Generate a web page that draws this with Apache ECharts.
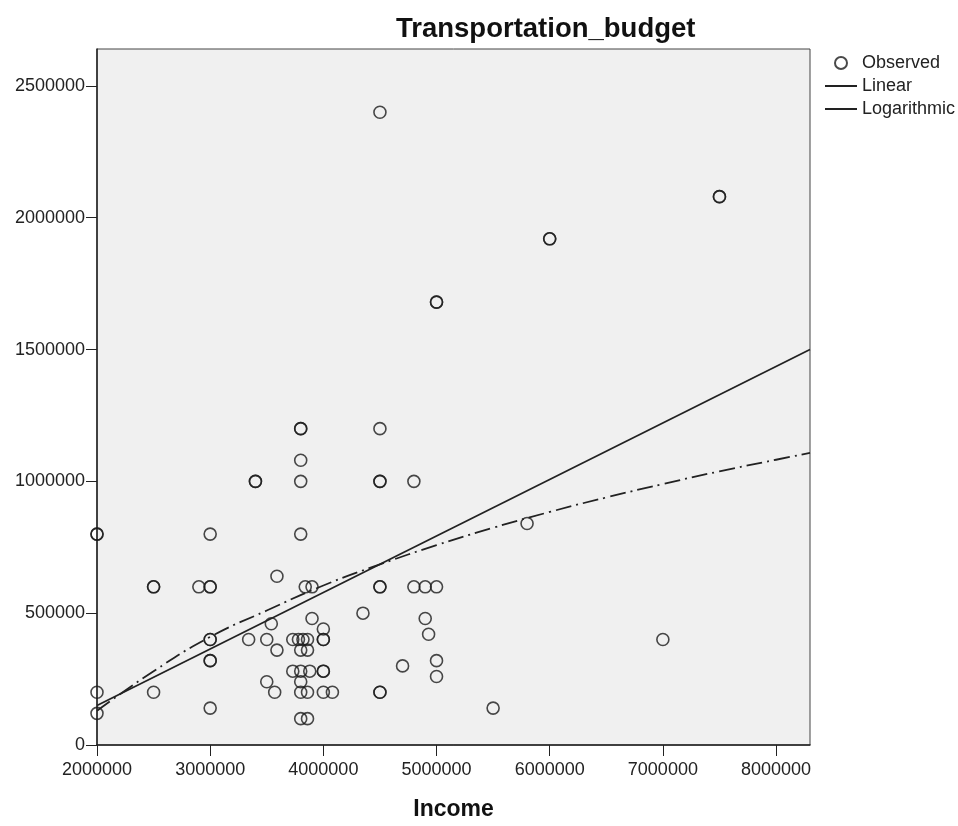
<!DOCTYPE html>
<html>
<head>
    <meta charset="utf-8" />
    <title>Transportation_budget</title>
    <style>
        html, body { margin: 0; padding: 0; background: #fff; }
        #chart { width: 958px; height: 826px; }
    </style>
</head>
<body>
    <div id="chart"></div>
    <script src="https://cdn.jsdelivr.net/npm/echarts@6/dist/echarts.min.js"></script>
    <script>
        // observed points (income, transportation budget); repeated pairs are duplicate cases
        var income = [
            2000000, 2000000, 2000000, 2000000,
            2500000, 2500000, 2500000,
            2900000,
            3000000, 3000000, 3000000, 3000000, 3000000, 3000000, 3000000, 3000000,
            3340000, 3400000, 3400000,
            3500000, 3500000, 3540000, 3570000, 3590000, 3590000,
            3730000, 3730000, 3780000,
            3800000, 3800000, 3800000, 3800000, 3800000, 3800000, 3800000, 3800000, 3800000, 3800000,
            3820000, 3840000,
            3860000, 3860000, 3860000, 3860000,
            3880000, 3900000, 3900000,
            4000000, 4000000, 4000000, 4000000, 4000000, 4000000,
            4080000, 4350000,
            4500000, 4500000, 4500000, 4500000, 4500000, 4500000, 4500000, 4500000,
            4700000, 4800000, 4800000, 4900000, 4900000, 4930000,
            5000000, 5000000, 5000000, 5000000, 5000000,
            5500000, 5800000, 6000000, 6000000, 7000000, 7500000, 7500000
        ];
        var budget = [
            800000, 800000, 200000, 120000,
            600000, 600000, 200000,
            600000,
            800000, 600000, 600000, 400000, 400000, 320000, 320000, 140000,
            400000, 1000000, 1000000,
            400000, 240000, 460000, 200000, 640000, 360000,
            400000, 280000, 400000,
            1200000, 1200000, 1080000, 1000000, 800000, 360000, 280000, 240000, 200000, 100000,
            400000, 600000,
            400000, 360000, 200000, 100000,
            280000, 600000, 480000,
            440000, 400000, 400000, 280000, 280000, 200000,
            200000, 500000,
            2400000, 1200000, 1000000, 1000000, 600000, 600000, 200000, 200000,
            300000, 1000000, 600000, 600000, 480000, 420000,
            1680000, 1680000, 600000, 320000, 260000,
            140000, 840000, 1920000, 1920000, 400000, 2080000, 2080000
        ];

        // fitted lines
        var linearX = [2000000, 8300000];
        var linearY = [150000, 1500000];
        var logX = [2000000, 2500000, 3000000, 3500000, 4000000, 4500000, 5000000, 5500000,
                    6000000, 6500000, 7000000, 7500000, 8000000, 8300000];
        var logY = [130000, 280000, 410000, 510000, 605000, 685000, 758000, 824000,
                    884000, 939000, 990000, 1038000, 1082000, 1108000];

        function pairs(xs, ys) {
            var out = [];
            for (var i = 0; i < xs.length; i++) out.push([xs[i], ys[i]]);
            return out;
        }
        function plain(v) { return String(v); }

        var font = 'Liberation Sans, Arial, sans-serif';
        var ink = '#222';

        var option = {
            animation: false,
            textStyle: { fontFamily: font },
            title: {
                text: 'Transportation_budget',
                left: 391,
                top: 10,
                textStyle: { fontFamily: font, fontSize: 27.5, fontWeight: 'bold', color: '#111' }
            },
            legend: {
                orient: 'vertical',
                left: 820,
                top: 49,
                itemWidth: 32,
                itemHeight: 12,
                itemGap: 5,
                textStyle: { fontFamily: font, fontSize: 18, color: ink },
                data: [
                    { name: 'Observed' },
                    { name: 'Linear', icon: 'path://M0,0 H32 V2 H0 Z' },
                    { name: 'Logarithmic', icon: 'path://M0,0 H32 V2 H0 Z' }
                ]
            },
            grid: {
                left: 97,
                right: 148,
                top: 49,
                bottom: 76,
                show: true,
                backgroundColor: '#f0f0f0',
                borderColor: '#444',
                borderWidth: 1
            },
            xAxis: {
                type: 'value',
                min: 2000000,
                max: 8300000,
                interval: 1000000,
                name: 'Income',
                nameLocation: 'middle',
                nameGap: 53,
                nameTextStyle: { fontFamily: font, fontSize: 23, fontWeight: 'bold', color: '#111' },
                axisLine: { show: true, onZero: false, lineStyle: { color: ink, width: 1.5 } },
                axisTick: { show: true, length: 11, lineStyle: { color: ink } },
                axisLabel: { fontSize: 18, color: ink, margin: 16, fontFamily: font, formatter: plain },
                splitLine: { show: false }
            },
            yAxis: {
                type: 'value',
                min: 0,
                max: 2640000,
                interval: 500000,
                axisLine: { show: true, lineStyle: { color: ink, width: 1.5 } },
                axisTick: { show: true, length: 11, lineStyle: { color: ink } },
                axisLabel: { fontSize: 18, color: ink, margin: 12, fontFamily: font, formatter: plain, showMaxLabel: false },
                splitLine: { show: false }
            },
            series: [
                {
                    name: 'Observed',
                    type: 'scatter',
                    symbol: 'circle',
                    symbolSize: 12,
                    itemStyle: { color: 'rgba(0,0,0,0)', borderColor: '#1c1c1c', borderWidth: 1.6 },
                    data: pairs(income, budget)
                },
                {
                    name: 'Linear',
                    type: 'line',
                    symbol: 'none',
                    itemStyle: { color: ink },
                    lineStyle: { color: ink, width: 1.8 },
                    data: pairs(linearX, linearY)
                },
                {
                    name: 'Logarithmic',
                    type: 'line',
                    symbol: 'none',
                    smooth: true,
                    itemStyle: { color: ink },
                    lineStyle: { color: ink, width: 1.8, type: [16, 5, 2, 5] },
                    data: pairs(logX, logY)
                }
            ]
        };

        var chart = echarts.init(document.getElementById('chart'));
        chart.setOption(option);
    </script>
</body>
</html>
